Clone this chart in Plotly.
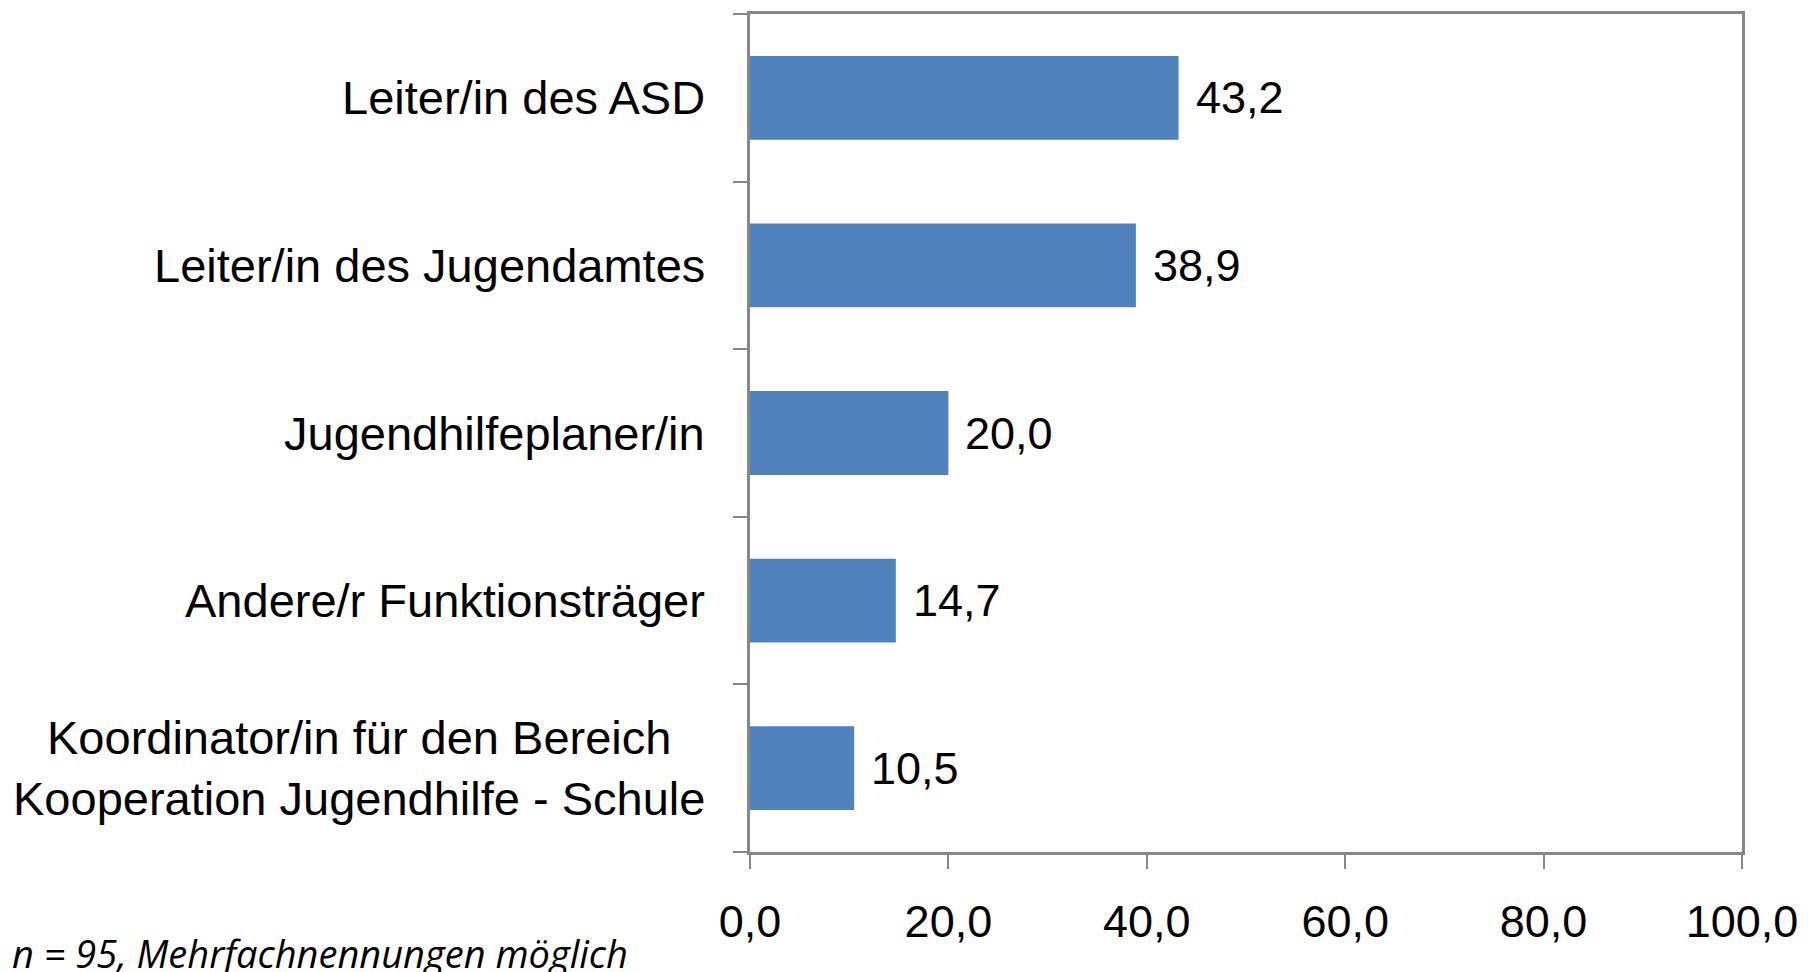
import plotly.graph_objects as go

categories = [
    "Leiter/in des ASD",
    "Leiter/in des Jugendamtes",
    "Jugendhilfeplaner/in",
    "Andere/r Funktionsträger",
    "Koordinator/in für den Bereich<br>Kooperation Jugendhilfe - Schule",
]
values = [43.2, 38.9, 20.0, 14.7, 10.5]
x_ticks = [0, 20, 40, 60, 80, 100]
x_tick_labels = ["0,0", "20,0", "40,0", "60,0", "80,0", "100,0"]
footnote = "n = 95, Mehrfachnennungen möglich"

def fmt(v):
    return f"{v:.1f}".replace(".", ",")

W, H = 1814, 972
L, R, T, B = 750, 72, 11, 120
AXIS = "#878787"
FONT = "Liberation Sans, Arial, sans-serif"

fig = go.Figure()
fig.add_trace(go.Bar(
    y=categories,
    x=values,
    orientation="h",
    marker=dict(color="#4F81BD", line=dict(width=0)),
    width=0.5,
    hoverinfo="skip",
))

for c, v in zip(categories, values):
    fig.add_annotation(
        x=v, y=c, xref="x", yref="y",
        text=fmt(v), showarrow=False,
        xanchor="left", yanchor="middle", xshift=15,
        font=dict(family=FONT, size=45, color="#000000"),
    )
    # category label (centered multi-line, right-anchored at the axis)
    fig.add_annotation(
        x=0, y=c, xref="paper", yref="y",
        text=c, showarrow=False, align="center",
        xanchor="right", yanchor="middle", xshift=-43,
        font=dict(family=FONT, size=47, color="#000000"),
    )

fig.add_annotation(
    x=(10 - L) / (W - L - R), y=(H - B - 953) / (H - T - B),
    xref="paper", yref="paper",
    text="<i>" + footnote + "</i>", showarrow=False,
    xanchor="left", yanchor="middle",
    font=dict(family="Open Sans, Lato, sans-serif", size=38, color="#000000"),
)

fig.update_layout(
    width=W, height=H,
    margin=dict(l=L, r=R, t=T, b=B, pad=0),
    paper_bgcolor="white", plot_bgcolor="white",
    showlegend=False,
    xaxis=dict(
        range=[0, 100],
        tickvals=x_ticks, ticktext=x_tick_labels,
        showgrid=False, zeroline=False,
        showline=True, linecolor=AXIS, linewidth=2.5, mirror=True,
        ticks="outside", ticklen=14, tickcolor=AXIS, tickwidth=1.5,
        tickfont=dict(family=FONT, size=45, color="#000000"),
        ticklabelstandoff=14,
        fixedrange=True,
    ),
    yaxis=dict(
        categoryorder="array", categoryarray=categories[::-1],
        showgrid=False, zeroline=False,
        showline=True, linecolor=AXIS, linewidth=2.5, mirror=True,
        ticks="outside", ticklen=14, tickcolor=AXIS, tickwidth=1.5,
        tickson="boundaries",
        showticklabels=False,
        fixedrange=True,
    ),
)

fig.write_html(
    "out.html",
    config={"displayModeBar": False},
    post_script="document.body.style.margin='0';document.body.style.overflow='hidden';",
)
